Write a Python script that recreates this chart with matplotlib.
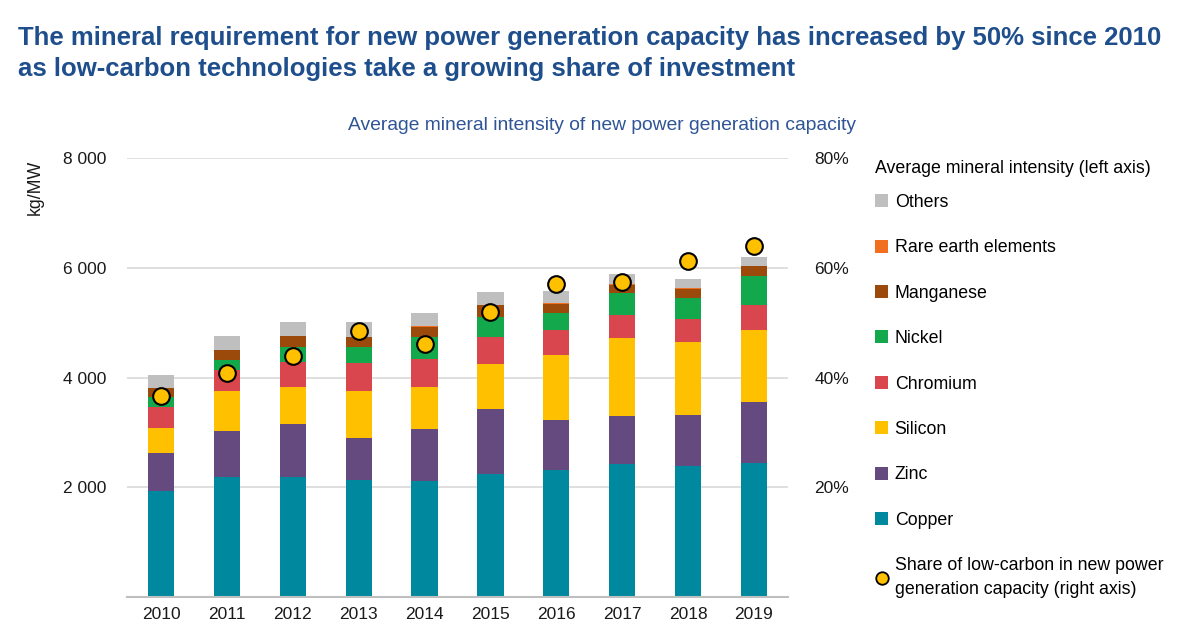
import numpy as np
import matplotlib
matplotlib.use("Agg")
import matplotlib.pyplot as plt
from matplotlib.patches import Patch
from matplotlib.lines import Line2D

plt.rcParams['font.family'] = ['Liberation Sans', 'DejaVu Sans']

# データ (kg/MW)
years = ['2010', '2011', '2012', '2013', '2014', '2015', '2016', '2017', '2018', '2019']
copper = [1927, 2188, 2182, 2140, 2115, 2249, 2310, 2432, 2395, 2450]
zinc = [699, 833, 967, 760, 949, 1180, 924, 863, 924, 1100]
silicon = [450, 724, 681, 851, 766, 808, 1185, 1416, 1319, 1313]
chromium = [383, 395, 450, 516, 516, 499, 438, 432, 432, 450]
nickel = [188, 182, 279, 292, 390, 364, 316, 401, 383, 529]
manganese = [159, 183, 201, 177, 188, 213, 170, 146, 164, 182]
rare_earth = [5, 5, 5, 5, 6, 8, 8, 8, 8, 8]
others = [238, 250, 250, 262, 243, 229, 217, 193, 162, 169]
low_carbon_share = [36.6, 40.8, 43.9, 48.5, 46.1, 51.9, 57.0, 57.4, 61.2, 64.0]  # %

series = [
    ('Copper', copper, '#00889E'),
    ('Zinc', zinc, '#654A80'),
    ('Silicon', silicon, '#FFC000'),
    ('Chromium', chromium, '#D9464D'),
    ('Nickel', nickel, '#13A84B'),
    ('Manganese', manganese, '#9C4A0C'),
    ('Rare earth elements', rare_earth, '#F07020'),
    ('Others', others, '#BFBFBF'),
]

fig = plt.figure(figsize=(12, 6.43), dpi=100)
ax = fig.add_axes([0.1058, 0.0715, 0.5509, 0.6828])
x = np.arange(len(years))

bottom = np.zeros(len(years))
for name, vals, col in series:
    ax.bar(x, vals, width=0.4, bottom=bottom, color=col, zorder=2)
    bottom += np.array(vals)

ax.set_xlim(-0.52, 9.52)
ax.set_ylim(0, 8000)
ax.set_yticks([2000, 4000, 6000, 8000])
ax.set_yticklabels(['2 000', '4 000', '6 000', '8 000'])
ax.set_xticks(x)
ax.set_xticklabels(years)
ax.grid(axis='y', color='#D9D9D9', lw=1.2, zorder=0)
for s in ['top', 'right', 'left']:
    ax.spines[s].set_visible(False)
ax.spines['bottom'].set_color('#BFBFBF')
ax.spines['bottom'].set_linewidth(1.5)
ax.tick_params(axis='both', length=0, labelsize=12.5, colors='#1A1A1A')
ax.tick_params(axis='y', pad=15)
ax.tick_params(axis='x', pad=7)

# 右軸
ax2 = ax.twinx()
ax2.set_ylim(0, 80)
ax2.plot(x, low_carbon_share, 'o', ms=12, mfc='#FFC000', mec='black', mew=1.5, zorder=5)
ax2.set_yticks([20, 40, 60, 80])
ax2.set_yticklabels(['20%', '40%', '60%', '80%'])
for s in ax2.spines.values():
    s.set_visible(False)
ax2.tick_params(axis='y', length=0, labelsize=12.5, colors='#1A1A1A', pad=19)

fig.text(35 / 1200, 1 - 187 / 643, 'kg/MW', rotation=90, ha='center', va='center',
         fontsize=12.8, color='#1A1A1A')

fig.text(18 / 1200, 1 - 38 / 643,
         'The mineral requirement for new power generation capacity has increased by 50% since 2010',
         fontsize=18.5, fontweight='bold', color='#1F4E8C', va='center')
fig.text(18 / 1200, 1 - 69 / 643,
         'as low-carbon technologies take a growing share of investment',
         fontsize=18.5, fontweight='bold', color='#1F4E8C', va='center')
fig.text(602 / 1200, 1 - 125 / 643, 'Average mineral intensity of new power generation capacity',
         fontsize=13.9, color='#2F5597', ha='center', va='center')

# 凡例
handles = [Patch(facecolor=col, edgecolor='none') for name, vals, col in series[::-1]]
labels = [name for name, vals, col in series[::-1]]
handles.append(Line2D([], [], marker='o', ls='none', ms=9, mfc='#FFC000', mec='black', mew=1.3))
labels.append('Share of low-carbon in new power\ngeneration capacity (right axis)')
leg = fig.legend(handles, labels, loc='upper left', bbox_to_anchor=(868 / 1200, 1 - 153 / 643),
                 frameon=False, fontsize=12.8, title='Average mineral intensity (left axis)',
                 title_fontsize=12.8, alignment='left', handlelength=0.75, handleheight=0.75,
                 handletextpad=0.35, labelspacing=1.6, borderaxespad=0)
leg._legend_box.sep = 12
leg.get_texts()[-1].set_linespacing(1.5)

fig.savefig('out.png', dpi=100)
